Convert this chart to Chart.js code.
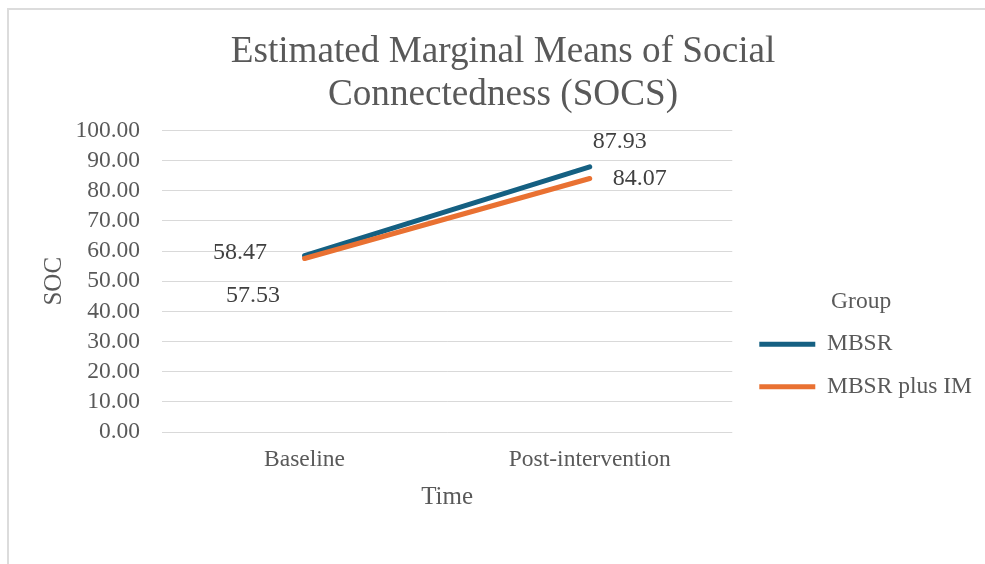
<!DOCTYPE html>
<html>
<head>
<meta charset="utf-8">
<script src="https://cdn.jsdelivr.net/npm/chart.js@4"></script>
<style>
  html, body { margin: 0; padding: 0; background: #fff; }
  #wrap { position: absolute; left: 0; top: 0; width: 985px; height: 564px; overflow: hidden; }
  #frame { position: absolute; left: 7px; top: 8px; width: 1200px; height: 800px;
           border-left: 2px solid #dcdcdc; border-top: 2px solid #dcdcdc; }
  #box { position: absolute; left: 0; top: 0; width: 985px; height: 564px; }
</style>
</head>
<body>
<div id="wrap">
  <div id="frame"></div>
  <div id="box"><canvas id="chart"></canvas></div>
</div>
<script>
var categories = ['Baseline', 'Post-intervention'];
var mbsr = [58.47, 87.93];
var mbsrPlusIm = [57.53, 84.07];
var yMin = 0, yMax = 100, yStep = 10;

var serif = '"Liberation Serif", "Times New Roman", serif';
var grey = '#595959';

// value labels next to each point, nudged like the office default placement
var pointLabels = {
  id: 'pointLabels',
  afterDatasetsDraw: function (chart, args, opts) {
    var ctx = chart.ctx;
    ctx.save();
    ctx.font = opts.size + 'px ' + serif;
    ctx.fillStyle = opts.color;
    ctx.textAlign = 'center';
    ctx.textBaseline = 'middle';
    chart.data.datasets.forEach(function (ds, i) {
      var meta = chart.getDatasetMeta(i);
      meta.data.forEach(function (pt, j) {
        var off = opts.offsets[i][j];
        ctx.fillText(ds.data[j].toFixed(2), pt.x + off[0], pt.y + off[1]);
      });
    });
    ctx.restore();
  }
};

var ctx = document.getElementById('chart').getContext('2d');
var myChart = new Chart(ctx, {
  type: 'line',
  data: {
    labels: categories,
    datasets: [{
      label: 'MBSR',
      data: mbsr,
      borderColor: '#156082',
      borderWidth: 5,
      borderCapStyle: 'round',
      pointRadius: 0,
      order: 1,
    }, {
      label: 'MBSR plus IM',
      data: mbsrPlusIm,
      borderColor: '#E97132',
      borderWidth: 5,
      borderCapStyle: 'round',
      pointRadius: 0,
      order: 0,
    }],
  },
  options: {
    responsive: true,
    maintainAspectRatio: false,
    animation: false,
    layout: { padding: { left: 24, right: 3, top: 10, bottom: 10 } },
    scales: {
      x: {
        offset: true,
        grid: { display: false, drawTicks: false },
        border: { display: false },
        ticks: { color: grey, padding: 14, font: { family: serif, size: 23.5 } },
        title: {
          display: true, text: 'Time', color: grey,
          font: { family: serif, size: 25 },
          padding: { top: 4, bottom: 42 },
        },
        afterFit: function (axis) { axis.height = 122; },
      },
      y: {
        min: yMin,
        max: yMax,
        grid: { color: '#d9d9d9', lineWidth: 1, drawTicks: false },
        border: { display: false },
        ticks: {
          stepSize: yStep,
          autoSkip: false,
          color: grey,
          padding: 22,
          font: { family: serif, size: 23.5 },
          callback: function (v) { return v.toFixed(2); },
        },
        title: {
          display: true, text: 'SOC', color: grey,
          font: { family: serif, size: 25 },
          padding: { top: 15, bottom: 0 },
        },
        afterFit: function (axis) { axis.width = 138; },
      },
      // empty gap between the plot and the legend
      gap: {
        type: 'linear',
        position: 'right',
        display: true,
        grid: { display: false, drawTicks: false },
        border: { display: false },
        ticks: { display: false },
        afterFit: function (axis) { axis.width = 8; },
      },
    },
    plugins: {
      title: {
        display: true,
        text: ['Estimated Marginal Means of Social', 'Connectedness (SOCS)'],
        color: grey,
        font: { family: serif, size: 37.2, weight: 'normal', lineHeight: 1.162 },
        padding: { top: 20.5, bottom: 13.5 },
      },
      legend: {
        position: 'right',
        align: 'start',
        maxWidth: 400,
        title: {
          display: true, text: 'Group', color: grey,
          font: { family: serif, size: 23.5, lineHeight: 1 },
          padding: { top: 280, bottom: 0 },
        },
        labels: {
          color: grey,
          font: { family: serif, size: 23.5 },
          usePointStyle: true,
          pointStyle: 'line',
          pointStyleWidth: 56,
          padding: 19,
          sort: function (a, b) { return a.datasetIndex - b.datasetIndex; },
        },
      },
      tooltip: { enabled: false },
      pointLabels: {
        size: 24,
        color: '#404040',
        offsets: [
          [[-64.5, -3], [30, -25]],
          [[-51.5, 37], [50, 0]],
        ],
      },
    },
  },
  plugins: [pointLabels],
});
</script>
</body>
</html>
